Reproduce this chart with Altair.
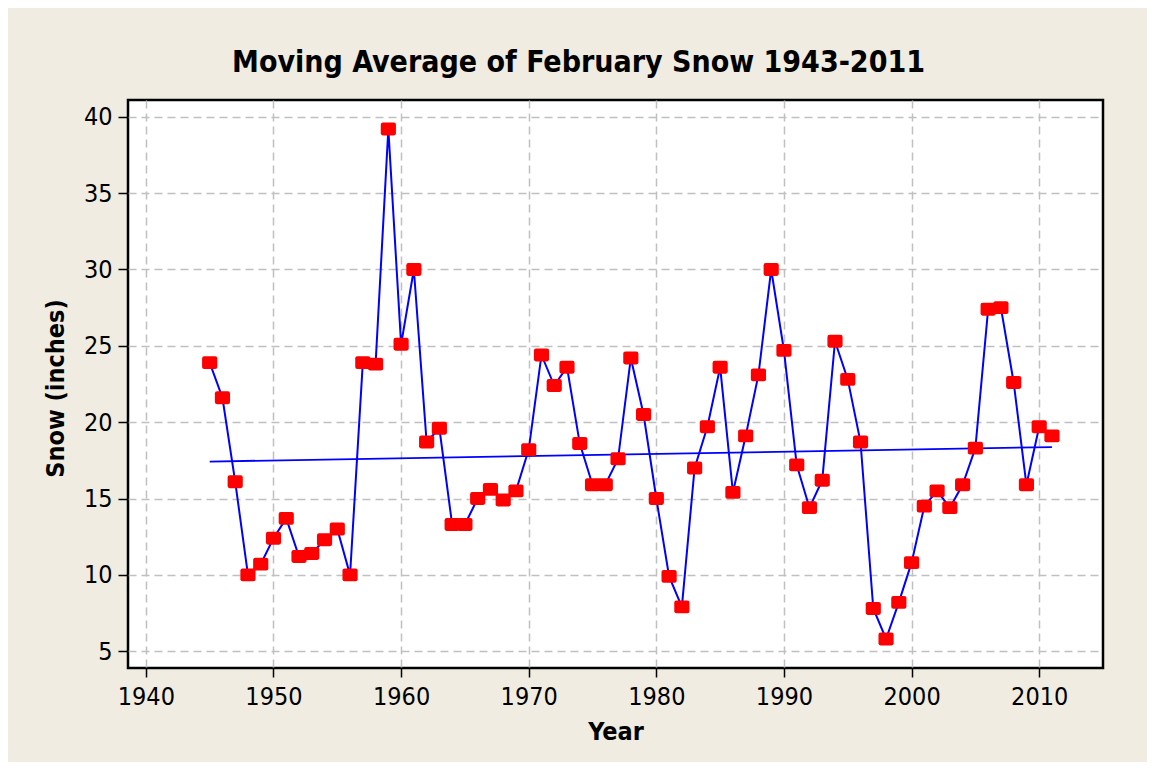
import altair as alt
import pandas as pd

years = list(range(1945, 2012))
snow = [
    23.9, 21.6, 16.1, 10.0, 10.7, 12.4, 13.7, 11.2, 11.4, 12.3,
    13.0, 10.0, 23.9, 23.8, 39.2, 25.1, 30.0, 18.7, 19.6, 13.3,
    13.3, 15.0, 15.6, 14.9, 15.5, 18.2, 24.4, 22.4, 23.6, 18.6,
    15.9, 15.9, 17.6, 24.2, 20.5, 15.0, 9.9, 7.9, 17.0, 19.7,
    23.6, 15.4, 19.1, 23.1, 30.0, 24.7, 17.2, 14.4, 16.2, 25.3,
    22.8, 18.7, 7.8, 5.8, 8.2, 10.8, 14.5, 15.5, 14.4, 15.9,
    18.3, 27.4, 27.5, 22.6, 15.9, 19.7, 19.1,
]
x_ticks = [1940, 1950, 1960, 1970, 1980, 1990, 2000, 2010]
y_ticks = [5, 10, 15, 20, 25, 30, 35, 40]

df = pd.DataFrame({"Year": years, "Snow": snow})

FONT = "DejaVu Sans Condensed, Tahoma, DejaVu Sans, sans-serif"

x_enc = alt.X(
    "Year:Q",
    scale=alt.Scale(domain=[1938.6, 2015.0], nice=False, zero=False),
    axis=alt.Axis(
        values=x_ticks, format="d", title="Year",
        grid=True, gridColor="#C0C0C0", gridDash=[8, 5], gridWidth=1.5,
        domain=False, ticks=True, tickSize=9, tickColor="black", tickWidth=1.5,
        labelFont=FONT, labelFontSize=25, labelColor="black", labelPadding=7,
        titleFont=FONT, titleFontSize=25, titleFontWeight="bold", titleColor="black",
        titleBaseline="alphabetic", titleY=71,
    ),
)
y_enc = alt.Y(
    "Snow:Q",
    scale=alt.Scale(domain=[3.9, 41.1], nice=False, zero=False),
    axis=alt.Axis(
        values=y_ticks, title="Snow (inches)",
        grid=True, gridColor="#C0C0C0", gridDash=[8, 5], gridWidth=1.5,
        domain=False, ticks=True, tickSize=10, tickColor="black", tickWidth=1.5,
        labelFont=FONT, labelFontSize=25, labelColor="black", labelPadding=6,
        titleFont=FONT, titleFontSize=25, titleFontWeight="bold", titleColor="black",
        titleBaseline="alphabetic", titleX=-65, titleY=288, titleAngle=-90,
    ),
)

base = alt.Chart(df)

line = base.mark_line(color="#0000FF", strokeWidth=2).encode(x=x_enc, y=y_enc)

trend = (
    base.transform_regression("Year", "Snow")
    .mark_line(color="#0000FF", strokeWidth=1.8)
    .encode(x="Year:Q", y="Snow:Q")
)

rounded = (
    "M -0.72 -0.85 L 0.72 -0.85 Q 1 -0.85 1 -0.57 L 1 0.57 Q 1 0.85 0.72 0.85 "
    "L -0.72 0.85 Q -1 0.85 -1 0.57 L -1 -0.57 Q -1 -0.85 -0.72 -0.85 Z"
)
points = base.mark_point(
    shape=rounded, filled=True, color="#FF0000", opacity=1, size=230
).encode(x="Year:Q", y="Snow:Q")

chart = (
    alt.layer(line, trend, points)
    .properties(
        width=975,
        height=568,
        title=alt.TitleParams(
            "Moving Average of February Snow 1943-2011",
            font=FONT, fontSize=30, fontWeight="bold", color="black",
            anchor="middle", baseline="alphabetic", offset=25, dx=-37, dy=27,
        ),
        autosize=alt.AutoSizeParams(type="none"),
        padding={"left": 120, "top": 92, "right": 44, "bottom": 94},
        background="#F0ECE1",
    )
    .configure_view(fill="white", stroke="black", strokeWidth=2.5)
)

chart.save("out.html", embed_options={"renderer": "svg", "actions": False})
